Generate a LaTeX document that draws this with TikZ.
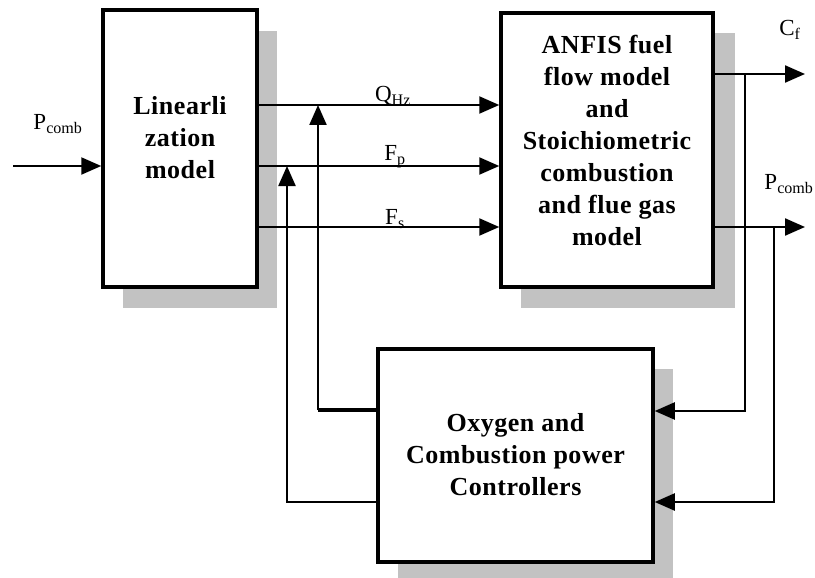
\documentclass[tikz,border=0pt]{standalone}
\usepackage{fontspec}
\setmainfont{Liberation Serif}
\usetikzlibrary{arrows.meta}
\begin{document}
\begin{tikzpicture}[x=1pt,y=-1pt,
  blk/.style={draw,line width=3.5pt,fill=white},
  shd/.style={fill=gray!48},
  conn/.style={line width=2.2pt},
  arr/.style={conn,-{Triangle[length=20pt,width=17pt]}},
  lbl/.style={font=\fontsize{23}{26}\selectfont,inner sep=1pt},
  btxt/.style={font=\bfseries\fontsize{26}{32}\selectfont\addfontfeature{LetterSpace=2},align=center,inner sep=0pt}]
\useasboundingbox (0,0) rectangle (815,578);
% shadows
\fill[shd] (123,31) rectangle (277,308);
\fill[shd] (521,33) rectangle (735,308);
\fill[shd] (398,369) rectangle (673,578);
% boxes
\node[blk,minimum width=154pt,minimum height=277pt] (lin) at (180,148.5) {};
\node[btxt] (lintxt) at (180,138) {Linearli\\zation\\model};
\node[blk,minimum width=212pt,minimum height=274pt] (anf) at (607,150) {};
\node[btxt] (anftxt) at (607,140) {ANFIS fuel\\flow model\\and\\Stoichiometric\\combustion\\and flue gas\\model};
\node[blk,minimum width=275pt,minimum height=213pt] (ctrl) at (515.5,455.5) {};
\node[btxt] (ctrltxt) at (515.5,455) {Oxygen and\\Combustion power\\Controllers};
% input
\coordinate (pin) at (13,166);
\draw[arr] (pin) -- (pin -| lin.west);
% forward connectors
\coordinate (q0) at (257,105);
\coordinate (f0) at (257,166);
\coordinate (s0) at (257,227);
\draw[arr] (q0) -- (q0 -| anf.west);
\draw[arr] (f0) -- (f0 -| anf.west);
\draw[arr] (s0) -- (s0 -| anf.west);
% feedback to left
\coordinate (fb1) at (318,410);
\coordinate (fb2) at (287,502);
\draw[line width=3.5pt] (fb1 -| ctrl.west) -- (fb1);
\draw[arr] (fb1) -- (fb1 |- q0);
\draw[arr] (fb2 -| ctrl.west) -- (fb2) -- (fb2 |- f0);
% outputs
\coordinate (cf) at (805,74);
\coordinate (pc) at (805,227);
\draw[arr] (cf -| anf.east) -- (cf);
\draw[arr] (pc -| anf.east) -- (pc);
\coordinate (j1) at (745,74);
\coordinate (j1b) at (745,411);
\coordinate (j2) at (774,227);
\coordinate (j2b) at (774,502);
\draw[arr] (j1) -- (j1b) -- (j1b -| ctrl.east);
\draw[arr] (j2) -- (j2b) -- (j2b -| ctrl.east);
% labels
\node[lbl] (lpin) at (58,124) {P\textsubscript{comb}};
\node[lbl] (lq) at (393,96) {Q\textsubscript{Hz}};
\node[lbl] (lf) at (395,157) {F\textsubscript{p}};
\node[lbl] (ls) at (395,219) {F\textsubscript{s}};
\node[lbl] (lcf) at (790,30) {C\textsubscript{f}};
\node[lbl] (lpc) at (789,184) {P\textsubscript{comb}};
\end{tikzpicture}
\end{document}
